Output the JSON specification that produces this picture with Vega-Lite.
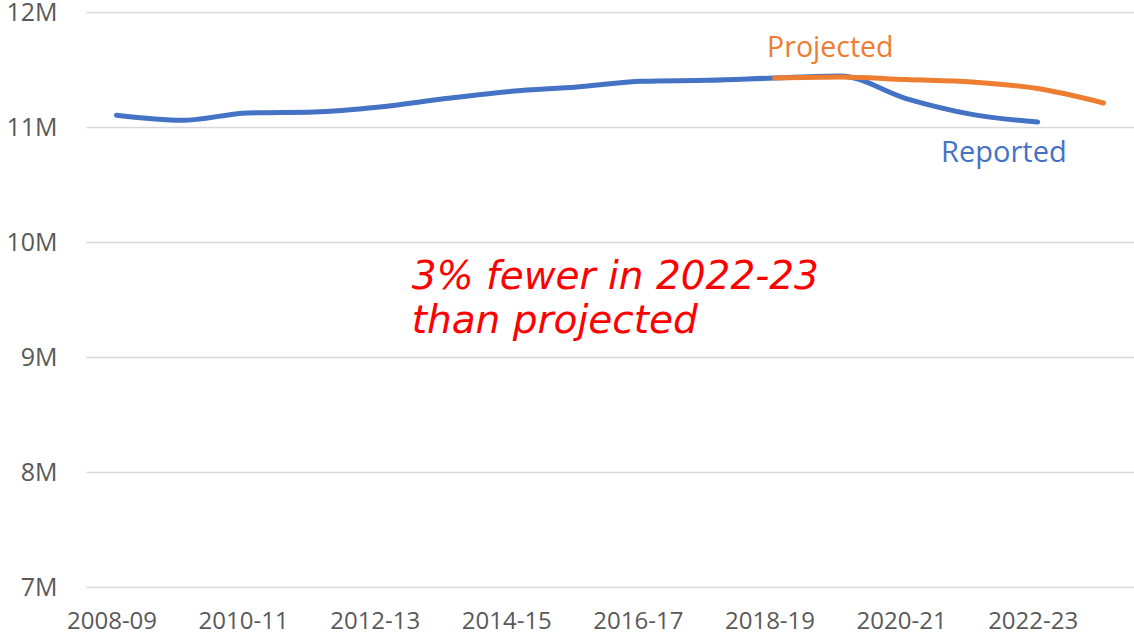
{
  "$schema": "https://vega.github.io/schema/vega-lite/v6.json",
  "width": 1048,
  "height": 575,
  "autosize": "none",
  "padding": {"left": 86, "top": 12, "right": 0, "bottom": 51},
  "background": "white",
  "config": {
    "view": {"stroke": null},
    "font": "Open Sans"
  },
  "datasets": {
    "series": [
      {"year": "2008-09", "series": "Reported", "value": 11.102},
      {"year": "2009-10", "series": "Reported", "value": 11.058},
      {"year": "2010-11", "series": "Reported", "value": 11.122},
      {"year": "2011-12", "series": "Reported", "value": 11.130},
      {"year": "2012-13", "series": "Reported", "value": 11.174},
      {"year": "2013-14", "series": "Reported", "value": 11.247},
      {"year": "2014-15", "series": "Reported", "value": 11.310},
      {"year": "2015-16", "series": "Reported", "value": 11.348},
      {"year": "2016-17", "series": "Reported", "value": 11.397},
      {"year": "2017-18", "series": "Reported", "value": 11.406},
      {"year": "2018-19", "series": "Reported", "value": 11.426},
      {"year": "2019-20", "series": "Reported", "value": 11.443},
      {"year": "2020-21", "series": "Reported", "value": 11.247},
      {"year": "2021-22", "series": "Reported", "value": 11.110},
      {"year": "2022-23", "series": "Reported", "value": 11.043},
      {"year": "2018-19", "series": "Projected", "value": 11.426},
      {"year": "2019-20", "series": "Projected", "value": 11.435},
      {"year": "2020-21", "series": "Projected", "value": 11.412},
      {"year": "2021-22", "series": "Projected", "value": 11.391},
      {"year": "2022-23", "series": "Projected", "value": 11.334},
      {"year": "2023-24", "series": "Projected", "value": 11.209}
    ],
    "labelProjected": [
      {"year": "2019-20", "value": 11.606, "label": "Projected"}
    ],
    "labelReported": [
      {"year": "2021-22", "value": 10.696, "label": "Reported"}
    ],
    "note": [
      {"year": "2012-13", "value": 9.589, "label": "3% fewer in 2022-23\nthan projected"}
    ]
  },
  "encoding": {
    "x": {
      "field": "year",
      "type": "ordinal",
      "scale": {
        "type": "point",
        "padding": 0.464,
        "domain": ["2008-09","2009-10","2010-11","2011-12","2012-13","2013-14","2014-15","2015-16","2016-17","2017-18","2018-19","2019-20","2020-21","2021-22","2022-23","2023-24"]
      },
      "axis": {
        "title": null,
        "values": ["2008-09","2010-11","2012-13","2014-15","2016-17","2018-19","2020-21","2022-23"],
        "labelAngle": 0,
        "labelFontSize": 24,
        "labelColor": "#595959",
        "labelBaseline": "alphabetic",
        "labelPadding": 41,
        "labelOffset": -5,
        "ticks": false,
        "tickSize": 0,
        "domain": false,
        "grid": false
      }
    },
    "y": {
      "field": "value",
      "type": "quantitative",
      "scale": {"domain": [7, 12], "nice": false, "zero": false},
      "axis": {
        "title": null,
        "values": [7, 8, 9, 10, 11, 12],
        "labelExpr": "datum.value + 'M'",
        "labelFontSize": 25,
        "labelColor": "#595959",
        "labelPadding": 29,
        "ticks": false,
        "tickSize": 0,
        "domain": false,
        "grid": true,
        "gridColor": "#D9D9D9",
        "gridWidth": 1.5
      }
    }
  },
  "layer": [
    {
      "data": {"name": "series"},
      "mark": {"type": "line", "strokeWidth": 5, "strokeCap": "round", "strokeJoin": "round", "interpolate": "monotone"},
      "encoding": {
        "color": {
          "field": "series",
          "type": "nominal",
          "scale": {"domain": ["Reported", "Projected"], "range": ["#4472C4", "#ED7D31"]},
          "legend": null
        },
        "order": {"field": "series", "sort": "descending"}
      }
    },
    {
      "data": {"name": "labelProjected"},
      "mark": {"type": "text", "fontSize": 28.5, "baseline": "alphabetic", "align": "center", "dx": -10, "color": "#ED7D31"},
      "encoding": {
        "text": {"field": "label"}
      }
    },
    {
      "data": {"name": "labelReported"},
      "mark": {"type": "text", "fontSize": 29, "baseline": "alphabetic", "align": "center", "dx": 32, "color": "#4472C4"},
      "encoding": {
        "text": {"field": "label"}
      }
    },
    {
      "data": {"name": "note"},
      "mark": {"type": "text", "font": "DejaVu Sans", "fontSize": 39, "fontStyle": "italic", "baseline": "alphabetic", "align": "left", "dx": 32, "lineBreak": "\n", "lineHeight": 44, "color": "#FF0000"},
      "encoding": {
        "text": {"field": "label"}
      }
    }
  ]
}
